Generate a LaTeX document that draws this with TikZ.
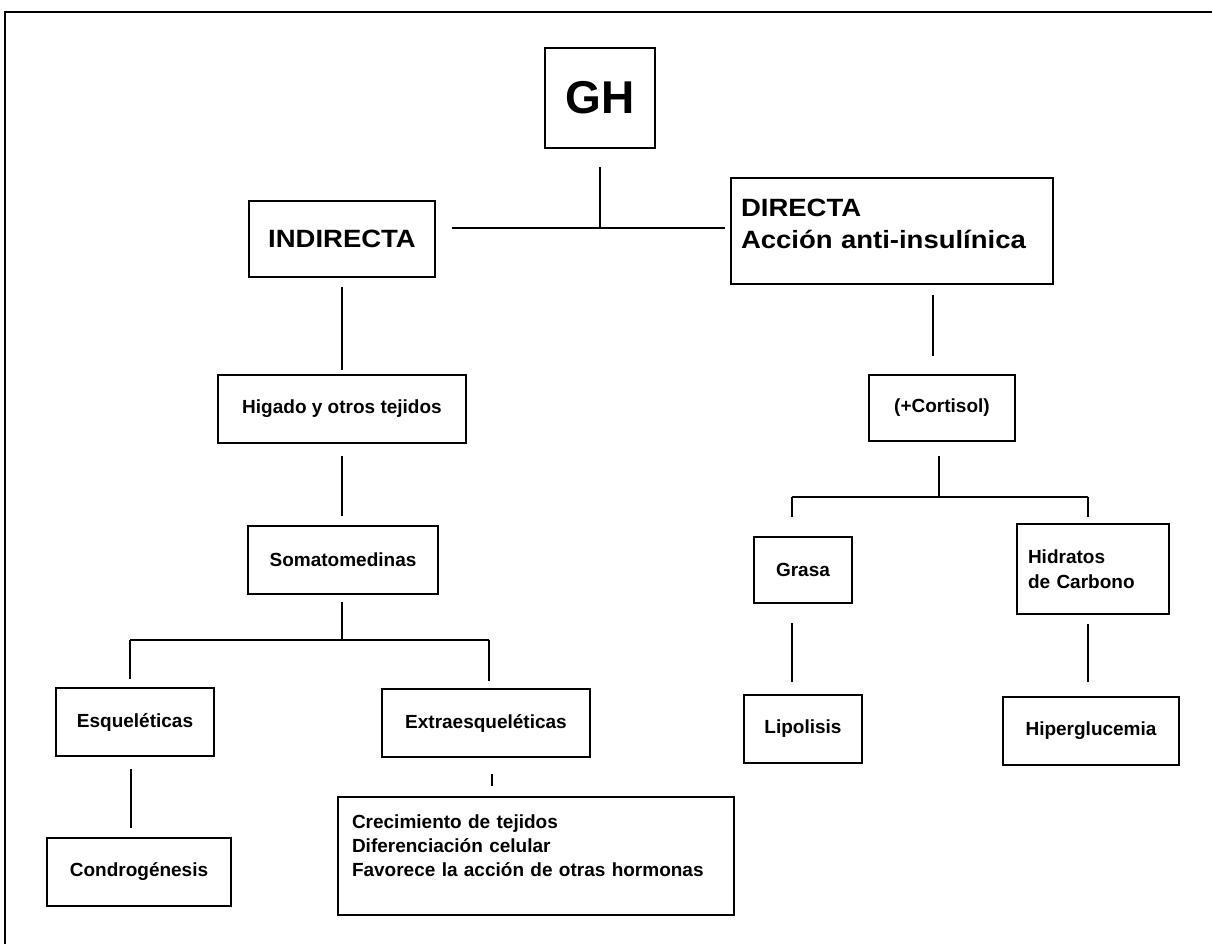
\documentclass[tikz,border=0pt]{standalone}
\usepackage{fontspec}
\setmainfont{Liberation Sans}
\newfontfamily\medfont{Liberation Sans}[FakeStretch=1.1]
\usetikzlibrary{calc}
\tikzset{
  box/.style={draw, line width=1.8pt, inner sep=0pt, align=center},
  smallbox/.style={box, font=\fontsize{19}{22}\selectfont\bfseries},
  medbox/.style={box, font=\medfont\fontsize{25}{25}\selectfont\bfseries},
  conn/.style={line width=1.2pt},
  frameline/.style={line width=1.8pt}
}
\begin{document}
\begin{tikzpicture}[x=1pt,y=-1pt]
\useasboundingbox (0,0) rectangle (1212,944);
\fill[white] (0,0) rectangle (1212,944);
\draw[frameline] (1212,12) -- (5,12) -- (5,944);

% nodes
\node[box, font=\fontsize{46}{46}\selectfont\bfseries, minimum width=110pt, minimum height=100pt] (gh) at (600,98) {GH};
\node[medbox, minimum width=186pt, minimum height=76pt] (indirecta) at (342,239) {INDIRECTA};
\node[medbox, minimum width=322pt, minimum height=106pt, text width=302pt, align=left, font=\medfont\fontsize{25}{32}\selectfont\bfseries] (directa) at (892,231) {DIRECTA\\Acción anti-insulínica\\[-17pt]\mbox{}};
\node[smallbox, minimum width=248pt, minimum height=68pt] (higado) at (342,409) {Higado y otros tejidos};
\node[smallbox, minimum width=190pt, minimum height=68pt] (soma) at (343,560) {Somatomedinas};
\node[smallbox, minimum width=158pt, minimum height=68pt] (esq) at (135,722) {Esqueléticas};
\node[smallbox, minimum width=208pt, minimum height=68pt] (extra) at (486,723) {Extraesqueléticas};
\node[smallbox, minimum width=184pt, minimum height=68pt] (condro) at (139,872) {Condrogénesis};
\node[smallbox, minimum width=396pt, minimum height=118pt, text width=368pt, align=left, font=\fontsize{19}{24}\selectfont\bfseries] (efectos) at (536,856) {Crecimiento de tejidos\\Diferenciación celular\\Favorece la acción de otras hormonas\\[-3pt]\mbox{}};
\node[smallbox, minimum width=146pt, minimum height=66pt] (cortisol) at (942,408) {(+Cortisol)};
\node[smallbox, minimum width=98pt, minimum height=66pt] (grasa) at (803,570) {Grasa};
\node[smallbox, minimum width=152pt, minimum height=90pt, text width=130pt, align=left, font=\fontsize{19}{25}\selectfont\bfseries] (hidratos) at (1093,569) {Hidratos\\de Carbono};
\node[smallbox, minimum width=118pt, minimum height=68pt] (lipolisis) at (803,729) {Lipolisis};
\node[smallbox, minimum width=176pt, minimum height=68pt] (hiper) at (1091,731) {Hiperglucemia};

% junctions
\coordinate (jtop) at (600,228);
\coordinate (jleft) at (342,640);
\coordinate (jesq) at (130,640);
\coordinate (jext) at (489,640);
\coordinate (jright) at (939,497);
\coordinate (jgrasa) at (792,497);
\coordinate (jhid) at (1088,497);
\coordinate (xesq) at (131,0);
\coordinate (xext) at (492,0);
\coordinate (xdir) at (933,0);

% connectors
\draw[conn, shorten <=18pt] (gh.south) -- (jtop);
\draw[conn, shorten <=16pt, shorten >=5pt] (indirecta.east |- jtop) -- (directa.west |- jtop);
\draw[conn, shorten <=9pt, shorten >=4pt] (indirecta.south) -- (indirecta.south |- higado.north);
\draw[conn, shorten <=12pt, shorten >=9pt] (higado.south) -- (higado.south |- soma.north);
\draw[conn, shorten <=7pt] (soma.south -| jleft) -- (jleft);
\draw[conn] (jesq) -- (jext);
\draw[conn, shorten >=8pt] (jesq) -- (jesq |- esq.north);
\draw[conn, shorten >=7pt] (jext) -- (jext |- extra.north);
\draw[conn, shorten <=12pt, shorten >=9pt] (esq.south -| xesq) -- (condro.north -| xesq);
\draw[conn, shorten <=16pt, shorten >=10pt] (extra.south -| xext) -- (efectos.north -| xext);
\draw[conn, shorten <=10pt, shorten >=18pt] (directa.south -| xdir) -- (cortisol.north -| xdir);
\draw[conn, shorten <=14pt] (cortisol.south -| jright) -- (jright);
\draw[conn] (jgrasa) -- (jhid);
\draw[conn, shorten >=19pt] (jgrasa) -- (jgrasa |- grasa.north);
\draw[conn, shorten >=6pt] (jhid) -- (jhid |- hidratos.north);
\draw[conn, shorten <=19pt, shorten >=12pt] (grasa.south -| jgrasa) -- (lipolisis.north -| jgrasa);
\draw[conn, shorten <=9pt, shorten >=14pt] (hidratos.south -| jhid) -- (hiper.north -| jhid);
\end{tikzpicture}
\end{document}
